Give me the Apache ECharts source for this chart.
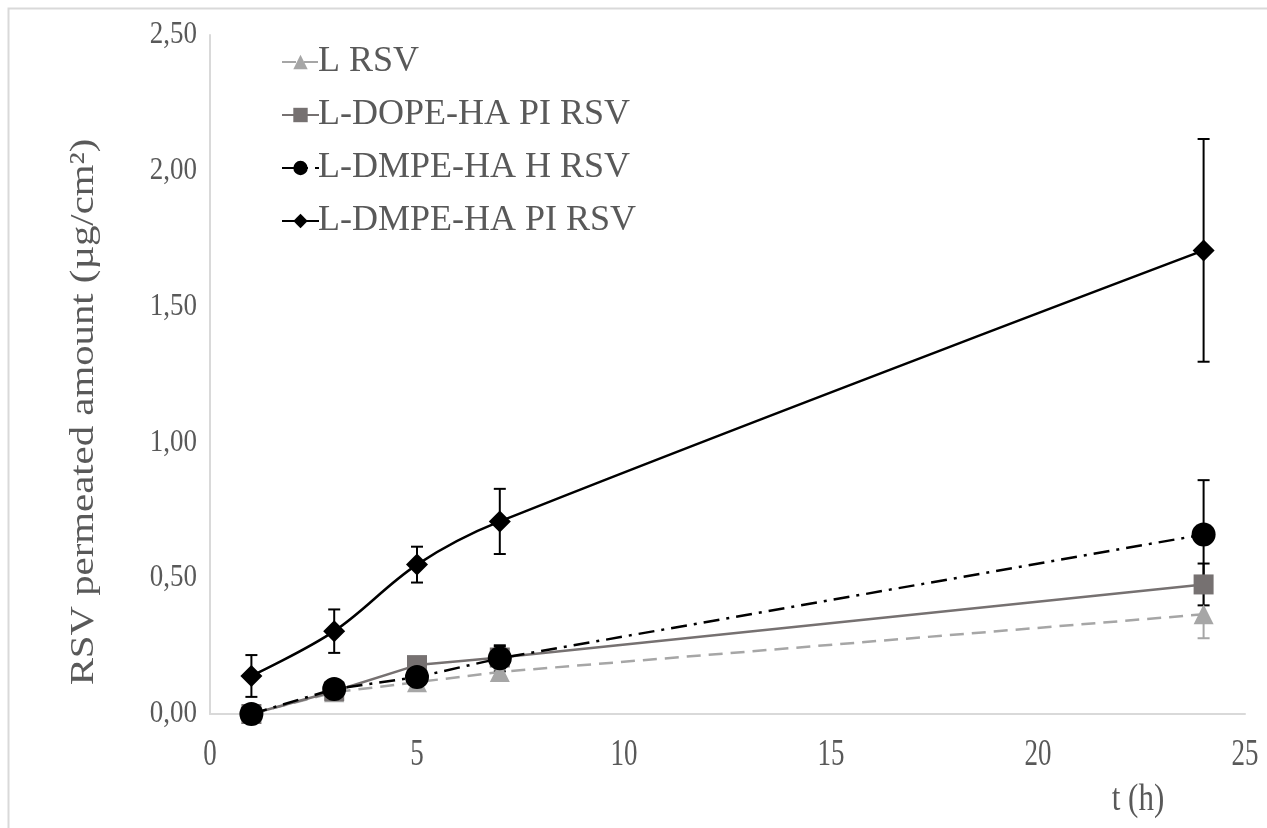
<!DOCTYPE html>
<html>
<head>
<meta charset="utf-8">
<script src="https://cdn.jsdelivr.net/npm/echarts@6/dist/echarts.min.js"></script>
<style>
  html, body { margin: 0; padding: 0; background: #fff; }
  #chart { width: 1267px; height: 828px; }
</style>
</head>
<body>
<div id="chart"></div>
<script>
// Sampling times (h)
const times = [1, 3, 5, 7, 24];

// Permeated amount of RSV (µg/cm²) and standard deviations
const lRsv        = [0.00, 0.080, 0.117, 0.155, 0.367];
const lRsvErr     = [0.00, 0.00, 0.00, 0.00, 0.088];
const dopePi      = [0.00, 0.084, 0.180, 0.208, 0.477];
const dopePiErr   = [0.00, 0.00, 0.00, 0.04, 0.077];
const dmpeH       = [0.00, 0.092, 0.136, 0.205, 0.661];
const dmpeHErr    = [0.00, 0.00, 0.00, 0.048, 0.200];
const dmpePi      = [0.140, 0.305, 0.550, 0.709, 1.707];
const dmpePiErr   = [0.077, 0.080, 0.066, 0.120, 0.410];

const seriesNames = ['L RSV', 'L-DOPE-HA PI RSV', 'L-DMPE-HA H RSV', 'L-DMPE-HA PI RSV'];
const xTicks = [0, 5, 10, 15, 20, 25];
const yTicks = [0, 0.5, 1, 1.5, 2, 2.5];

const FONT = '"Liberation Serif", "Times New Roman", serif';
const TEXT = '#595959';

function pairs(vals) {
  return times.map((t, i) => [t, vals[i]]);
}

function errorSeries(vals, errs, color) {
  const data = times.map((t, i) => [t, vals[i] - errs[i], vals[i] + errs[i]])
    .filter((d, i) => errs[i] > 0);
  return {
    type: 'custom',
    z: 1,
    silent: true,
    data: data,
    renderItem: function (params, api) {
      const lo = api.coord([api.value(0), api.value(1)]);
      const hi = api.coord([api.value(0), api.value(2)]);
      const w = 6;
      const style = { stroke: color, lineWidth: 2, fill: null };
      return {
        type: 'group',
        children: [
          { type: 'line', shape: { x1: lo[0], y1: lo[1], x2: hi[0], y2: hi[1] }, style: style },
          { type: 'line', shape: { x1: lo[0] - w, y1: lo[1], x2: lo[0] + w, y2: lo[1] }, style: style },
          { type: 'line', shape: { x1: hi[0] - w, y1: hi[1], x2: hi[0] + w, y2: hi[1] }, style: style }
        ]
      };
    }
  };
}

const fmt = v => v.toFixed(2).replace('.', ',');

const chart = echarts.init(document.getElementById('chart'), null, { renderer: 'canvas' });

chart.setOption({
  animation: false,
  backgroundColor: '#fff',
  textStyle: { fontFamily: FONT },
  grid: { left: 210, right: 22, top: 35, bottom: 114, containLabel: false },
  xAxis: {
    type: 'value',
    min: xTicks[0], max: xTicks[xTicks.length - 1], interval: 5,
    axisLine: { show: true, lineStyle: { color: '#d9d9d9', width: 2 } },
    axisTick: { show: false },
    splitLine: { show: false },
    axisLabel: { show: false }
  },
  yAxis: {
    type: 'value',
    min: yTicks[0], max: yTicks[yTicks.length - 1], interval: 0.5,
    axisLine: { show: true, lineStyle: { color: '#d9d9d9', width: 2 } },
    axisTick: { show: false },
    splitLine: { show: false },
    axisLabel: { show: false }
  },
  legend: {
    orient: 'vertical',
    left: 276, top: 39,
    itemWidth: 37, itemHeight: 18,
    itemGap: 17,
    textStyle: { color: TEXT, fontSize: 36, lineHeight: 36, fontFamily: FONT, padding: [0, 0, 0, -6] },
    data: seriesNames
  },
  series: [
    errorSeries(lRsv, lRsvErr, '#a6a6a6'),
    errorSeries(dopePi, dopePiErr, '#000'),
    errorSeries(dmpeH, dmpeHErr, '#000'),
    errorSeries(dmpePi, dmpePiErr, '#000'),
    {
      name: seriesNames[0], type: 'line', z: 2,
      data: pairs(lRsv),
      symbol: 'triangle', symbolSize: 20,
      itemStyle: { color: '#a6a6a6' },
      lineStyle: { color: '#a6a6a6', width: 2.5, type: [14, 8] }
    },
    {
      name: seriesNames[1], type: 'line', z: 3,
      data: pairs(dopePi),
      symbol: 'rect', symbolSize: 20,
      itemStyle: { color: '#767171' },
      lineStyle: { color: '#767171', width: 2.5 }
    },
    {
      name: seriesNames[2], type: 'line', z: 4,
      data: pairs(dmpeH),
      symbol: 'circle', symbolSize: 24,
      itemStyle: { color: '#000' },
      lineStyle: { color: '#000', width: 2.5, type: [16, 7, 3, 7] }
    },
    {
      name: seriesNames[3], type: 'line', z: 5,
      data: pairs(dmpePi),
      smooth: 0.35,
      symbol: 'diamond', symbolSize: 22,
      itemStyle: { color: '#000' },
      lineStyle: { color: '#000', width: 2.5 }
    }
  ]
});

// Tall, narrow tick labels and axis titles, placed through the axis scales
const graphics = [
  {
    type: 'rect', silent: true,
    shape: { x: 8.5, y: 8.5, width: 1300, height: 900 },
    style: { fill: null, stroke: '#d9d9d9', lineWidth: 2 }
  },
  {
    type: 'text', silent: true,
    x: 84, y: 412, rotation: Math.PI / 2, scaleX: 1.2,
    style: {
      text: 'RSV permeated amount (µg/cm²)',
      fill: TEXT, font: '34px ' + FONT,
      align: 'center', verticalAlign: 'middle'
    }
  },
  {
    type: 'text', silent: true,
    x: 1138, y: 800, scaleY: 1.25,
    style: {
      text: 't (h)',
      fill: TEXT, font: '31px ' + FONT,
      align: 'center', verticalAlign: 'middle'
    }
  }
];

xTicks.forEach(t => {
  const p = chart.convertToPixel({ gridIndex: 0 }, [t, 0]);
  graphics.push({
    type: 'text', silent: true,
    x: p[0], y: p[1] + 41, scaleY: 1.4,
    style: { text: String(t), fill: TEXT, font: '27px ' + FONT, align: 'center', verticalAlign: 'middle' }
  });
});

yTicks.forEach(v => {
  const p = chart.convertToPixel({ gridIndex: 0 }, [0, v]);
  graphics.push({
    type: 'text', silent: true,
    x: p[0] - 13, y: p[1], scaleY: 1.15,
    style: { text: fmt(v), fill: TEXT, font: '27px ' + FONT, align: 'right', verticalAlign: 'middle' }
  });
});

chart.setOption({ graphic: graphics });
</script>
</body>
</html>
